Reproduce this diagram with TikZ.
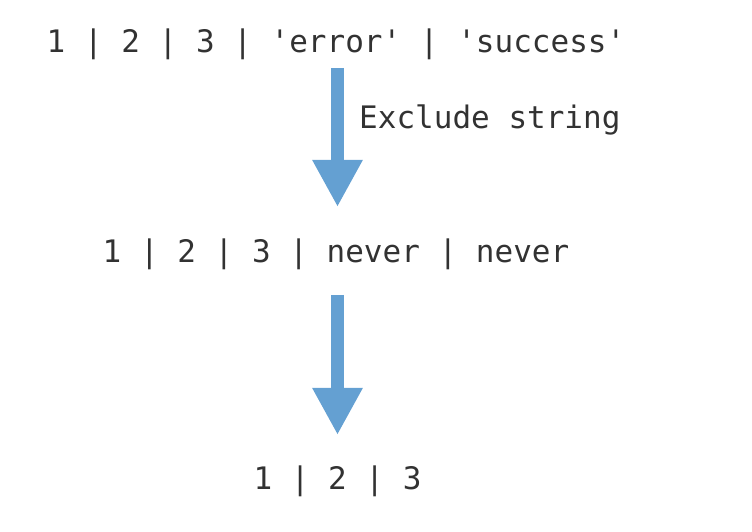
\documentclass[tikz,border=0pt]{standalone}
\usepackage{fontspec}
\setmonofont{DejaVu Sans Mono}
\usetikzlibrary{arrows.meta}
\definecolor{txt}{RGB}{50,50,50}
\definecolor{arrowblue}{RGB}{100,160,210}
\tikzset{
  x=1pt,y=1pt,
  codetext/.style={inner sep=0pt, anchor=base, text=txt, font=\fontsize{31}{31}\ttfamily},
  flowarrow/.style={draw=arrowblue, line width=12.5pt,
     -{Triangle[width=47pt,length=47pt,fill=arrowblue]}}
}
\begin{document}
\begin{tikzpicture}
\useasboundingbox (0,0) rectangle (752,532);
\node[codetext] (l1) at (336,479) {1 | 2 | 3 | 'error' | 'success'};
\node[codetext] (l2) at (336,269) {1 | 2 | 3 | never | never};
\node[codetext] (l3) at (337.5,42) {1 | 2 | 3};
\node[codetext, anchor=base west] (lab) at (359,403) {Exclude string};
\coordinate (a1s) at (337.5,464);
\coordinate (a1e) at (337.5,325);
\coordinate (a2s) at (337.5,237);
\coordinate (a2e) at (337.5,97);
\draw[flowarrow] (a1s) -- (a1e);
\draw[flowarrow] (a2s) -- (a2e);
\end{tikzpicture}
\end{document}
